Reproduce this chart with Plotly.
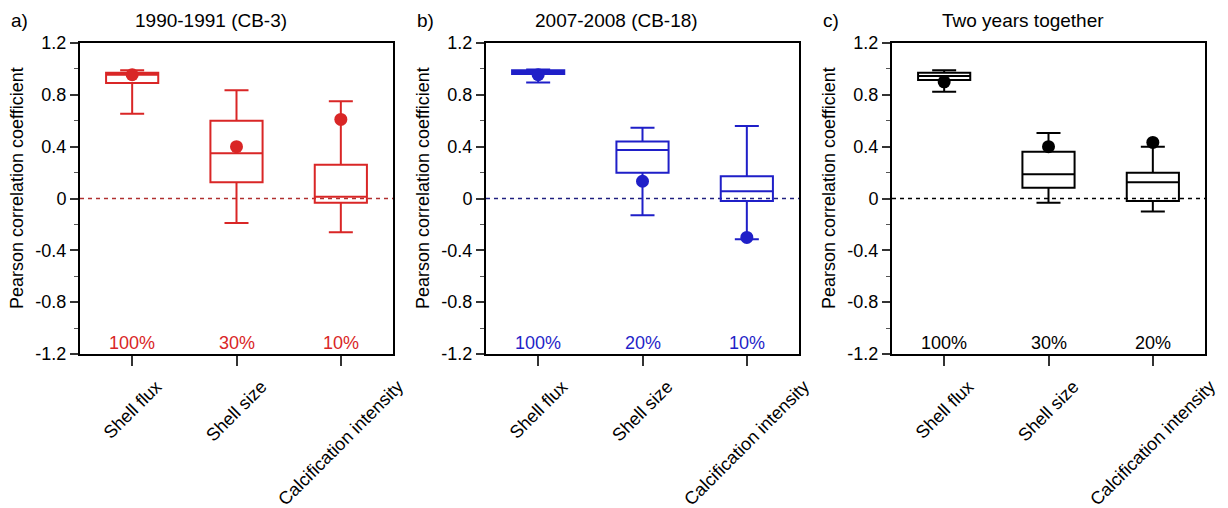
import plotly.graph_objects as go

W, H = 1228, 508

categories = ["Shell flux", "Shell size", "Calcification intensity"]
panel_titles = ["1990-1991 (CB-3)", "2007-2008 (CB-18)", "Two years together"]
panel_letters = ["a)", "b)", "c)"]
colors = ["#d92626", "#1f1fc8", "#000000"]
zero_colors = ["#b03030", "#202080", "#000000"]
y_ticks = [-1.2, -0.8, -0.4, 0, 0.4, 0.8, 1.2]
y_ticktext = ["-1.2", "-0.8", "-0.4", "0", "0.4", "0.8", "1.2"]
y_minor = [-1.0, -0.6, -0.2, 0.2, 0.6, 1.0]

# box statistics per panel (Shell flux, Shell size, Calcification intensity)
lower_a = [0.654, -0.19, -0.26]
q1_a = [0.892, 0.125, -0.033]
med_a = [0.955, 0.35, 0.013]
q3_a = [0.97, 0.60, 0.26]
upper_a = [0.99, 0.836, 0.75]
dot_a = [0.955, 0.40, 0.61]
pct_a = ["100%", "30%", "10%"]

lower_b = [0.895, -0.13, -0.315]
q1_b = [0.96, 0.198, -0.02]
med_b = [0.975, 0.375, 0.056]
q3_b = [0.99, 0.44, 0.172]
upper_b = [0.995, 0.546, 0.56]
dot_b = [0.955, 0.133, -0.30]
pct_b = ["100%", "20%", "10%"]

lower_c = [0.823, -0.033, -0.10]
q1_c = [0.915, 0.082, -0.02]
med_c = [0.946, 0.187, 0.125]
q3_c = [0.97, 0.36, 0.198]
upper_c = [0.99, 0.505, 0.40]
dot_c = [0.90, 0.40, 0.433]
pct_c = ["100%", "30%", "20%"]

panels = [
    (lower_a, q1_a, med_a, q3_a, upper_a, dot_a, pct_a),
    (lower_b, q1_b, med_b, q3_b, upper_b, dot_b, pct_b),
    (lower_c, q1_c, med_c, q3_c, upper_c, dot_c, pct_c),
]

FONT = "Arial, Liberation Sans, sans-serif"

# pixel layout
x_px = [(80, 393), (486, 799), (892, 1205)]
y_top, y_bot = 43, 354

fig = go.Figure()
annotations = []
shapes = []

for i, (lo, q1, md, q3, up, dot, pct) in enumerate(panels):
    n = "" if i == 0 else str(i + 1)
    xa, ya = "x" + n, "y" + n
    col = colors[i]
    fig.add_trace(go.Box(
        x=categories, q1=q1, median=md, q3=q3, lowerfence=lo, upperfence=up,
        xaxis=xa, yaxis=ya, width=0.5, whiskerwidth=0.46,
        line=dict(color=col, width=2), fillcolor="rgba(0,0,0,0)",
        boxpoints=False, showlegend=False, hoverinfo="skip",
    ))
    fig.add_trace(go.Scatter(
        x=categories, y=dot, mode="markers", xaxis=xa, yaxis=ya,
        marker=dict(color=col, size=13, line=dict(width=0)),
        showlegend=False, hoverinfo="skip",
    ))
    x0, x1 = x_px[i]
    fig.layout["xaxis" + n] = dict(
        domain=[x0 / W, x1 / W], anchor=ya, type="category",
        categoryorder="array", categoryarray=categories,
        range=[-0.5, 2.5], showticklabels=False, automargin=False,
        ticks="outside", ticklen=10, tickwidth=1.5, tickcolor="#333",
        showline=True, linewidth=2, linecolor="black", mirror=True,
        showgrid=False, zeroline=False,
    )
    fig.layout["yaxis" + n] = dict(
        domain=[1 - y_bot / H, 1 - y_top / H], anchor=xa, automargin=False,
        range=[-1.2, 1.2], tickvals=y_ticks, ticktext=y_ticktext,
        ticks="outside", ticklen=8, tickwidth=1.5, tickcolor="#333",
        minor=dict(tickvals=y_minor, ticks="outside", ticklen=4, tickwidth=1, tickcolor="#555"),
        tickfont=dict(family=FONT, size=18, color="black"),
        showline=True, linewidth=2, linecolor="black", mirror=True,
        showgrid=False, zeroline=False,
    )
    shapes.append(dict(type="line", xref=xa + " domain", yref=ya, x0=0, x1=1, y0=0, y1=0,
                       line=dict(color=zero_colors[i], width=1.5, dash="4px,4px"), layer="below"))
    # percent labels
    for c, p in zip(categories, pct):
        annotations.append(dict(x=c, y=-1.115, xref=xa, yref=ya, text=p, showarrow=False,
                                font=dict(family=FONT, size=18, color=col),
                                xanchor="center", yanchor="middle"))
    # rotated category labels
    for c in categories:
        annotations.append(dict(x=c, y=1 - 374 / H, xref=xa, yref="paper", text=c, showarrow=False,
                                textangle=-45, font=dict(family=FONT, size=18, color="black"),
                                xanchor="center", yanchor="top"))
    # y-axis title
    annotations.append(dict(x=(x0 - 63) / W, y=1 - 188 / H, xref="paper", yref="paper",
                            text="Pearson correlation coefficient", textangle=-90, showarrow=False,
                            font=dict(family=FONT, size=18, color="black"),
                            xanchor="center", yanchor="middle"))
    # panel title
    annotations.append(dict(x=(x0 + x1 - 52) / 2 / W, y=1 - 20 / H, xref="paper", yref="paper",
                            text=panel_titles[i], showarrow=False,
                            font=dict(family=FONT, size=19, color="black"),
                            xanchor="center", yanchor="middle"))
    # panel letter
    annotations.append(dict(x=(x0 - 61) / W, y=1 - 20 / H, xref="paper", yref="paper",
                            text=panel_letters[i], showarrow=False,
                            font=dict(family=FONT, size=19, color="black"),
                            xanchor="center", yanchor="middle"))

fig.update_layout(
    width=W, height=H, margin=dict(l=0, r=0, t=0, b=0, autoexpand=False),
    paper_bgcolor="white", plot_bgcolor="white",
    annotations=annotations, shapes=shapes,
    font=dict(family=FONT, size=18, color="black"),
)

fig.write_html("out.html")
